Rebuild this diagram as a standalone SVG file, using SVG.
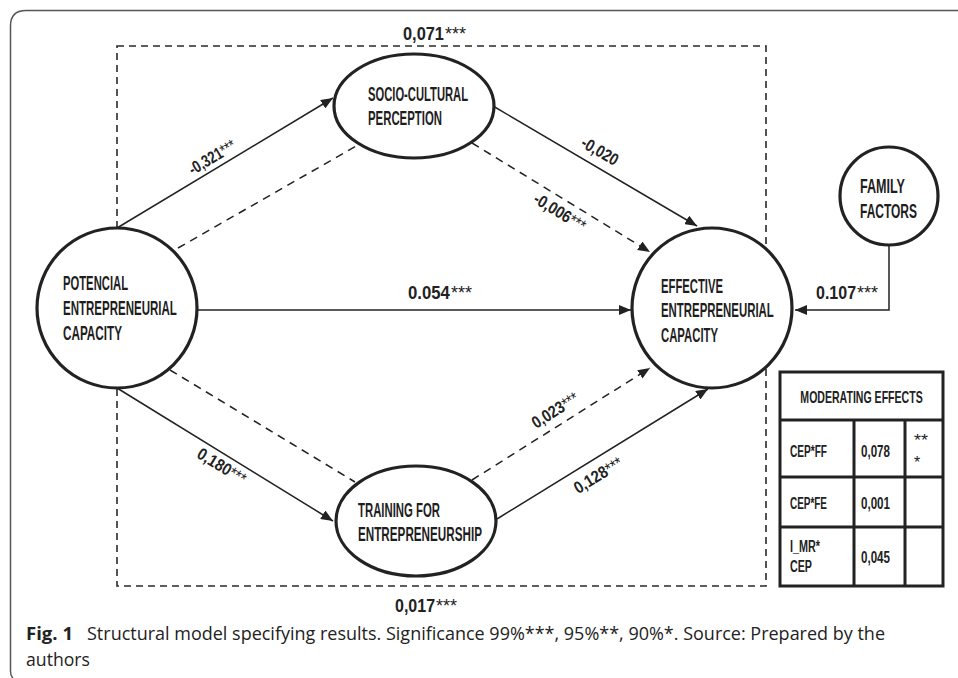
<svg xmlns="http://www.w3.org/2000/svg" width="958" height="678" viewBox="0 0 958 678">
<style>
.frame{fill:none;stroke:#555;stroke-width:1.5}
.box{fill:none;stroke:#2a2a2a;stroke-width:1.6;stroke-dasharray:7 5}
.node{fill:#fff;stroke:#222;stroke-width:3.2}
.c{fill:none;stroke:#222;stroke-width:1.5}
.d{fill:none;stroke:#222;stroke-width:1.5;stroke-dasharray:8 6}
.t{font-family:"Liberation Sans",Arial,sans-serif;font-weight:bold;font-size:20px;fill:#1e1e1e}
.l{font-family:"Liberation Sans",Arial,sans-serif;font-weight:bold;font-size:18px;fill:#222}
.r{font-family:"Liberation Sans",Arial,sans-serif;font-weight:bold;font-size:17px;fill:#222}
.tb{fill:#fff;stroke:#222;stroke-width:3}
.tt{font-family:"Liberation Sans",Arial,sans-serif;font-weight:bold;font-size:16px;fill:#222}
.s{font-weight:normal}
.a{font-family:"Liberation Sans",Arial,sans-serif;font-weight:normal;font-size:18px;fill:#222}
.cap{font-family:"Open Sans","Noto Sans",sans-serif;font-size:18px;fill:#222}
</style>
<defs>
<marker id="ah" viewBox="0 0 12 10" refX="12" refY="5" markerWidth="12" markerHeight="10" markerUnits="userSpaceOnUse" orient="auto">
<path d="M0,0 L12,5 L0,10 z" fill="#222"/>
</marker>
</defs>
<rect width="958" height="678" fill="#fff"/>
<path class="frame" d="M958,10.5 H26 Q10.5,10.5 10.5,26 V671 Q10.5,676 13,678"/>
<g id="mediation-box">
<rect class="box" x="117" y="46" width="649" height="540"/>
<text class="l" transform="translate(403,40) scale(0.91,1)">0,071</text>
<text class="a" x="445" y="40">***</text>
<text class="l" transform="translate(395,612) scale(0.89,1)">0,017</text>
<text class="a" x="436" y="612">***</text>
</g>
<g id="connectors">
<line class="c" x1="117" y1="228" x2="333" y2="98" marker-end="url(#ah)"/>
<line class="d" x1="178" y1="248" x2="358" y2="145"/>
<line class="c" x1="493" y1="106" x2="697" y2="226" marker-end="url(#ah)"/>
<line class="d" x1="472" y1="143" x2="650" y2="252" marker-end="url(#ah)"/>
<line class="c" x1="197" y1="310" x2="631" y2="310" marker-end="url(#ah)"/>
<path class="c" d="M889,245 V310 H795" marker-end="url(#ah)"/>
<line class="c" x1="117" y1="388" x2="333" y2="521" marker-end="url(#ah)"/>
<line class="d" x1="170" y1="370" x2="355" y2="482"/>
<line class="d" x1="472" y1="480" x2="650" y2="368" marker-end="url(#ah)"/>
<line class="c" x1="497" y1="519" x2="708" y2="389" marker-end="url(#ah)"/>
<text class="r" transform="translate(212,157) rotate(-31)" x="0" y="6" text-anchor="middle" textLength="52" lengthAdjust="spacingAndGlyphs">-0,321<tspan class="s">***</tspan></text>
<text class="r" transform="translate(600,151) rotate(30.5)" x="0" y="6" text-anchor="middle" textLength="40" lengthAdjust="spacingAndGlyphs">-0,020</text>
<text class="r" transform="translate(560,212) rotate(31.5)" x="0" y="6" text-anchor="middle" textLength="58" lengthAdjust="spacingAndGlyphs">-0,006<tspan class="s">***</tspan></text>
<text class="l" transform="translate(408,299) scale(0.93,1)">0.054</text>
<text class="a" x="451" y="299">***</text>
<text class="l" transform="translate(816,299) scale(0.89,1)">0.107</text>
<text class="a" x="857" y="299">***</text>
<text class="r" transform="translate(222,466) rotate(31.6)" x="0" y="6" text-anchor="middle" textLength="54" lengthAdjust="spacingAndGlyphs">0,180<tspan class="s">***</tspan></text>
<text class="r" transform="translate(555,410) rotate(-32.2)" x="0" y="6" text-anchor="middle" textLength="52" lengthAdjust="spacingAndGlyphs">0,023<tspan class="s">***</tspan></text>
<text class="r" transform="translate(598,475) rotate(-31.6)" x="0" y="6" text-anchor="middle" textLength="54" lengthAdjust="spacingAndGlyphs">0,128<tspan class="s">***</tspan></text>
</g>
<g id="socio-cultural-perception">
<ellipse class="node" cx="414" cy="106" rx="80" ry="52"/>
<text class="t" x="368" y="101" textLength="100" lengthAdjust="spacingAndGlyphs">SOCIO-CULTURAL</text>
<text class="t" x="368" y="125" textLength="74" lengthAdjust="spacingAndGlyphs">PERCEPTION</text>
</g>
<g id="potencial-entrepreneurial-capacity">
<circle class="node" cx="117" cy="308" r="80"/>
<text class="t" x="63" y="290" textLength="65" lengthAdjust="spacingAndGlyphs">POTENCIAL</text>
<text class="t" transform="translate(63,315) scale(0.576,1)">ENTREPRENEURIAL</text>
<text class="t" x="63" y="340" textLength="59" lengthAdjust="spacingAndGlyphs">CAPACITY</text>
</g>
<g id="effective-entrepreneurial-capacity">
<circle class="node" cx="712" cy="308" r="80"/>
<text class="t" x="661" y="293" textLength="62" lengthAdjust="spacingAndGlyphs">EFFECTIVE</text>
<text class="t" transform="translate(661,317) scale(0.571,1)">ENTREPRENEURIAL</text>
<text class="t" x="661" y="342" textLength="57" lengthAdjust="spacingAndGlyphs">CAPACITY</text>
</g>
<g id="family-factors">
<circle class="node" cx="889" cy="196" r="49"/>
<text class="t" x="860" y="193" textLength="45" lengthAdjust="spacingAndGlyphs">FAMILY</text>
<text class="t" x="860" y="218" textLength="57" lengthAdjust="spacingAndGlyphs">FACTORS</text>
</g>
<g id="training-for-entrepreneurship">
<ellipse class="node" cx="416" cy="521" rx="80" ry="55"/>
<text class="t" x="358" y="517" textLength="82" lengthAdjust="spacingAndGlyphs">TRAINING FOR</text>
<text class="t" x="358" y="541" textLength="124" lengthAdjust="spacingAndGlyphs">ENTREPRENEURSHIP</text>
</g>
<g id="moderating-effects-table">
<rect class="tb" x="780" y="372" width="163" height="214"/>
<path class="tb" d="M780,420 H943 M780,477 H943 M780,527 H943 M854,420 V586 M905,420 V586" fill="none"/>
<text class="tt" transform="translate(861.5,403) scale(0.66,1)" text-anchor="middle">MODERATING EFFECTS</text>
<text class="tt" x="790" y="457" textLength="37" lengthAdjust="spacingAndGlyphs">CEP*FF</text>
<text class="tt" x="861" y="457" textLength="29" lengthAdjust="spacingAndGlyphs">0,078</text>
<text class="tt" x="914" y="446" style="font-weight:normal" textLength="14" lengthAdjust="spacingAndGlyphs">**</text>
<text class="tt" x="914" y="468" style="font-weight:normal">*</text>
<text class="tt" x="790" y="509" textLength="37" lengthAdjust="spacingAndGlyphs">CEP*FE</text>
<text class="tt" x="861" y="509" textLength="29" lengthAdjust="spacingAndGlyphs">0,001</text>
<text class="tt" x="790" y="552" textLength="30" lengthAdjust="spacingAndGlyphs">I_MR*</text>
<text class="tt" x="790" y="572" textLength="22" lengthAdjust="spacingAndGlyphs">CEP</text>
<text class="tt" x="861" y="563" textLength="29" lengthAdjust="spacingAndGlyphs">0,045</text>
</g>
<g id="caption">
<text class="cap" x="26" y="640" font-weight="bold" textLength="47" lengthAdjust="spacingAndGlyphs">Fig. 1</text>
<text class="cap" x="87" y="640" textLength="798" lengthAdjust="spacingAndGlyphs">Structural model specifying results. Significance 99%***, 95%**, 90%*.  Source: Prepared by the</text>
<text class="cap" x="26" y="666" textLength="64" lengthAdjust="spacingAndGlyphs">authors</text>
</g>
</svg>
